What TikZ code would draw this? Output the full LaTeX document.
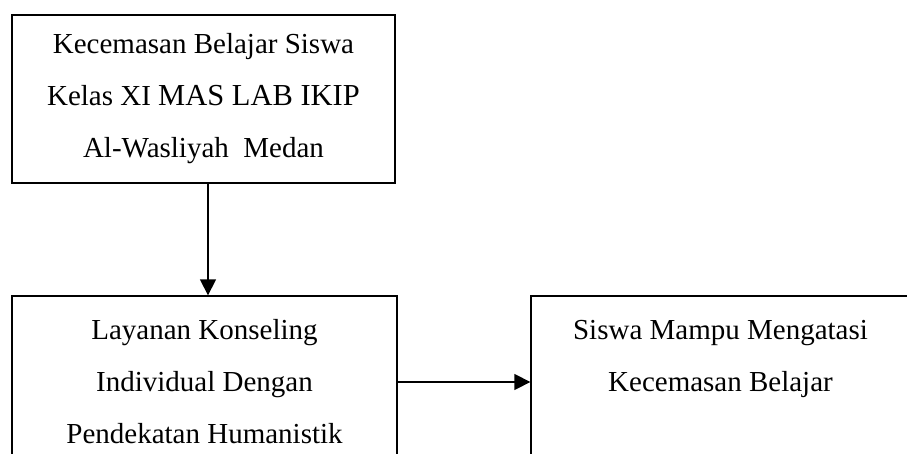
\documentclass[tikz,border=0pt]{standalone}
\usepackage{fontspec}
\setmainfont{Liberation Serif}
\usetikzlibrary{arrows.meta, positioning}

\tikzset{
    box/.style={draw, line width=1.3pt, rectangle, align=center, inner sep=0pt,
        font=\fontsize{29}{52}\selectfont},
    arrow/.style={line width=1.3pt, -{Triangle[length=16pt,width=16pt]}}
}

\begin{document}
\begin{tikzpicture}[x=1pt, y=-1pt]

    \useasboundingbox (0,0) rectangle (907,454);
    \clip (0,0) rectangle (907,454);

    %boxes
    \node[box, minimum width=383pt, minimum height=168pt] (cemas) at (203.5,99)
        {Kecemasan Belajar Siswa\\Kelas XI {\fontsize{30.5}{52}\selectfont MAS LAB IKIP}\\Al-Wasliyah~ Medan};
    \node[box, minimum width=385pt, minimum height=172pt] (layanan) at (204.5,382)
        {Layanan Konseling\\Individual Dengan\\Pendekatan Humanistik};
    \node[box, minimum width=379pt, minimum height=172pt] (mampu) at (720.5,382)
        {Siswa Mampu Mengatasi\\Kecemasan Belajar\\\mbox{}};

    %arrows
    \draw [arrow] ([xshift=4.5pt]cemas.south) -- ([xshift=4.5pt]cemas.south |- layanan.north);
    \draw [arrow] (layanan.east) -- (mampu.west);

\end{tikzpicture}
\end{document}
